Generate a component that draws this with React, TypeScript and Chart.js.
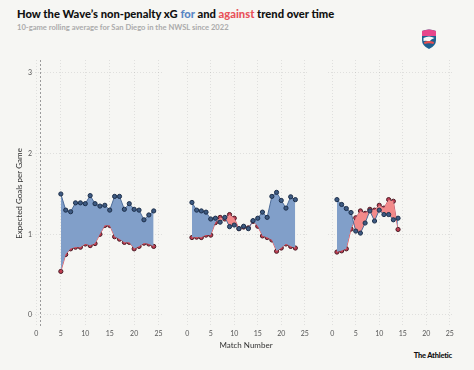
import React, { useEffect, useRef } from "react";
import { Chart, registerables } from "chart.js";
Chart.register(...registerables);

const xTickValues = [0, 5, 10, 15, 20, 25];
const yTickValues = [0, 1, 2, 3];

const matches2022 = [5, 6, 7, 8, 9, 10, 11, 12, 13, 14, 15, 16, 17, 18, 19, 20, 21, 22, 23, 24];
const xgFor2022 = [1.5, 1.3, 1.28, 1.39, 1.39, 1.38, 1.48, 1.38, 1.35, 1.36, 1.3, 1.47, 1.47, 1.31, 1.38, 1.31, 1.3, 1.18, 1.24, 1.29];
const xgAgainst2022 = [0.54, 0.75, 0.82, 0.84, 0.84, 0.88, 0.86, 0.885, 1.0, 1.11, 1.11, 0.97, 0.94, 0.9, 0.9, 0.82, 0.85, 0.89, 0.88, 0.85];

const matches2023 = [1, 2, 3, 4, 5, 6, 7, 8, 9, 10, 11, 12, 13, 14, 15, 16, 17, 18, 19, 20, 21, 22, 23];
const xgFor2023 = [1.395, 1.3, 1.29, 1.275, 1.19, 1.2, 1.15, 1.21, 1.095, 1.115, 1.07, 1.1, 1.07, 1.17, 1.2, 1.275, 1.21, 1.47, 1.52, 1.42, 1.325, 1.465, 1.43];
const xgAgainst2023 = [0.96, 0.965, 0.96, 0.99, 0.99, 1.145, 1.21, 1.19, 1.245, 1.2, 1.07, 1.09, 1.08, 1.16, 1.1, 0.98, 0.96, 0.93, 0.79, 0.83, 0.88, 0.85, 0.83];

const matches2024 = [1, 2, 3, 4, 5, 6, 7, 8, 9, 10, 11, 12, 13, 14];
const xgFor2024 = [1.43, 1.37, 1.32, 1.27, 1.04, 1.015, 1.14, 1.29, 1.165, 1.3, 1.245, 1.245, 1.18, 1.2];
const xgAgainst2024 = [0.78, 0.795, 0.82, 1.065, 1.205, 1.29, 1.26, 1.31, 1.3, 1.36, 1.325, 1.43, 1.41, 1.06];

const FONT = "Lato, 'Noto Sans', sans-serif";
const BLUE_FILL = "#819fc9";
const RED_FILL = "#f28a8a";
const BLUE_LINE = "#4d6c99";
const RED_LINE = "#d9535f";

type PanelProps = {
  matches: number[];
  forVals: number[];
  againstVals: number[];
  left: number;
  width: number;
  yAxis: boolean;
  xTitle: boolean;
  dashed: boolean;
};

function Panel({ matches, forVals, againstVals, left, width, yAxis, xTitle, dashed }: PanelProps) {
  const ref = useRef<HTMLCanvasElement | null>(null);
  useEffect(() => {
    if (!ref.current) return;
    const dashPlugin = {
      id: "dashLine",
      beforeDatasetsDraw(chart: any) {
        if (!dashed) return;
        const { ctx, chartArea, scales } = chart;
        const x = Math.round(scales.x.getPixelForValue(0.8)) + 0.5;
        ctx.save();
        ctx.strokeStyle = "#9a9a9a";
        ctx.lineWidth = 1;
        ctx.setLineDash([2, 2]);
        ctx.beginPath();
        ctx.moveTo(x, chartArea.top);
        ctx.lineTo(x, chartArea.bottom);
        ctx.stroke();
        ctx.restore();
      },
    };
    const chart = new Chart(ref.current, {
      type: "line",
      data: {
        datasets: [
          {
            label: "for",
            data: matches.map((m, i) => ({ x: m, y: forVals[i] })),
            borderColor: BLUE_LINE,
            borderWidth: 1,
            pointRadius: 2.1,
            pointBorderWidth: 1,
            pointBackgroundColor: "#3d5a82",
            pointBorderColor: "#1d2f4a",
            fill: { target: 1, above: BLUE_FILL, below: RED_FILL },
            tension: 0,
          },
          {
            label: "against",
            data: matches.map((m, i) => ({ x: m, y: againstVals[i] })),
            borderColor: RED_LINE,
            borderWidth: 1,
            pointRadius: 2.1,
            pointBorderWidth: 1,
            pointBackgroundColor: "#bf3d50",
            pointBorderColor: "#4a1a24",
            fill: false,
            tension: 0,
          },
        ],
      },
      options: {
        animation: false,
        responsive: false,
        maintainAspectRatio: false,
        layout: { padding: { left: yAxis ? 12 : 0, right: 0, top: 10, bottom: 0 } },
        plugins: { legend: { display: false }, tooltip: { enabled: false } },
        scales: {
          x: {
            type: "linear",
            min: -0.9,
            max: 25.9,
            afterBuildTicks: (s: any) => {
              s.ticks = xTickValues.map((v) => ({ value: v }));
            },
            afterFit: (s: any) => {
              s.height = 23;
            },
            grid: { color: "rgba(0,0,0,0.09)", drawTicks: false, lineWidth: 1 },
            border: { display: false, dash: [1, 2] },
            ticks: { color: "#555", font: { family: FONT, size: 7 }, padding: 3, maxRotation: 0, autoSkip: false },
            title: {
              display: xTitle,
              text: "Match Number",
              color: "#333",
              font: { family: FONT, size: 8 },
              padding: { top: 2, bottom: 0 },
            },
          },
          y: {
            type: "linear",
            min: -0.149,
            max: 3.161,
            afterBuildTicks: (s: any) => {
              s.ticks = yTickValues.map((v) => ({ value: v }));
            },
            afterFit: (s: any) => {
              s.width = yAxis ? 20 : 0;
            },
            grid: { color: "rgba(0,0,0,0.09)", drawTicks: false, lineWidth: 1 },
            border: { display: false, dash: [1, 2] },
            ticks: { display: yAxis, color: "#555", font: { family: FONT, size: 7 }, padding: 0 },
            title: {
              display: yAxis,
              text: "Expected Goals per Game",
              color: "#333",
              font: { family: FONT, size: 8 },
              padding: { top: 3, bottom: 0 },
            },
          },
        },
      },
      plugins: [dashPlugin],
    } as any);
    return () => chart.destroy();
  }, []);
  return (
    <canvas
      ref={ref}
      width={width}
      height={300}
      style={{ position: "absolute", left, top: 50, width, height: 300 }}
    />
  );
}

function Logo() {
  return (
    <svg width="16" height="20" viewBox="0 0 16 20" style={{ position: "absolute", left: 421, top: 29 }}>
      <path d="M1 2 Q8 -1 15 2 L15 11 Q15 17 8 20 Q1 17 1 11 Z" fill="#1e5f8f" />
      <path d="M1 2 Q8 -1 15 2 L15 7 L1 7 Z" fill="#e7468c" />
      <path d="M2.5 9 Q8 6 13.5 9 Q10 10 8 13 Q6 11 2.5 12 Z" fill="#f7f7f7" />
      <path d="M3 13 Q8 11 13 13 L12.5 15 Q8 13.5 3.5 15 Z" fill="#e84d4d" />
    </svg>
  );
}

export default function App() {
  return (
    <div
      style={{
        position: "absolute",
        left: 0,
        top: 0,
        width: 474,
        height: 370,
        background: "#f6f6f3",
        overflow: "hidden",
        fontFamily: FONT,
      }}
    >
      <div
        style={{
          position: "absolute",
          left: 17,
          top: 7,
          fontSize: 11.2,
          fontWeight: 900,
          color: "#111",
          whiteSpace: "nowrap",
          lineHeight: "14px",
        }}
      >
        How the Wave’s non-penalty xG <span style={{ color: "#5a86c4" }}>for</span> and{" "}
        <span style={{ color: "#e8525a" }}>against</span> trend over time
      </div>
      <div
        style={{
          position: "absolute",
          left: 17,
          top: 22,
          fontSize: 7.6,
          fontWeight: 700,
          color: "#ababab",
          whiteSpace: "nowrap",
          lineHeight: "10px",
        }}
      >
        10-game rolling average for San Diego in the NWSL since 2022
      </div>
      <Logo />
      <Panel matches={matches2022} forVals={xgFor2022} againstVals={xgAgainst2022} left={0} width={168} yAxis={true} xTitle={false} dashed={true} />
      <Panel matches={matches2023} forVals={xgFor2023} againstVals={xgAgainst2023} left={178} width={136} yAxis={false} xTitle={true} dashed={false} />
      <Panel matches={matches2024} forVals={xgFor2024} againstVals={xgAgainst2024} left={323} width={136} yAxis={false} xTitle={false} dashed={false} />
      <div
        style={{
          position: "absolute",
          right: 22,
          top: 351,
          fontSize: 7.5,
          fontWeight: 900,
          color: "#111",
          whiteSpace: "nowrap",
          lineHeight: "10px",
          letterSpacing: -0.2,
        }}
      >
        The Athletic
      </div>
    </div>
  );
}
